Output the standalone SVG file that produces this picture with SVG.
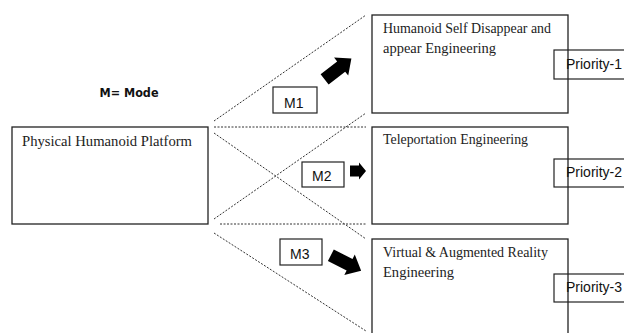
<svg xmlns="http://www.w3.org/2000/svg" width="624" height="333" viewBox="0 0 624 333">
<style>
.box{fill:#fff;stroke:#222;stroke-width:1.3}
.pbox{fill:none;stroke:#222;stroke-width:1.2}
.mbox{fill:#fff;stroke:#222;stroke-width:1.2}
.dot{stroke:#333;stroke-width:1;stroke-dasharray:2 1.5;fill:none}
.serif{font-family:"Liberation Serif","Times New Roman",serif;font-size:14px;fill:#222}
.sans{font-family:"Liberation Sans",Arial,sans-serif;font-size:14px;fill:#111}
.arrow{fill:#000}
</style>
<defs>
<path id="barrow" d="M -17,-6.5 L 4,-6.5 L 4,-11.5 L 17,0 L 4,11.5 L 4,6.5 L -17,6.5 Z"/>
</defs>
<rect width="624" height="333" fill="#fff"/>
<g id="legend">
<text x="129" y="97" text-anchor="middle" font-family="'DejaVu Sans',Verdana,sans-serif" font-weight="bold" font-size="12" fill="#111" textLength="59" lengthAdjust="spacingAndGlyphs">M= Mode</text>
</g>
<g id="connectors">
<line class="dot" x1="214" y1="121" x2="366" y2="15"/>
<line class="dot" x1="214" y1="127" x2="366" y2="127"/>
<line class="dot" x1="214" y1="133" x2="366" y2="239"/>
<line class="dot" x1="214" y1="219" x2="366" y2="113"/>
<line class="dot" x1="220" y1="224" x2="366" y2="224"/>
<line class="dot" x1="214" y1="233" x2="366" y2="331"/>
<use href="#barrow" class="arrow" transform="translate(338,69) rotate(-38)"/>
<path class="arrow" d="M 350,165.5 L 359,165.5 L 359,162.5 L 366,171 L 359,179.5 L 359,176.5 L 350,176.5 Z"/>
<use href="#barrow" class="arrow" transform="translate(346,263) rotate(27)"/>
</g>
<g id="platform">
<rect class="box" x="12" y="127" width="196" height="97"/>
<text class="serif" x="22" y="146" textLength="170" lengthAdjust="spacingAndGlyphs">Physical Humanoid Platform</text>
</g>
<g id="mode1">
<rect class="mbox" x="273" y="87" width="44" height="26"/>
<text class="sans" x="284" y="108">M1</text>
</g>
<g id="mode2">
<rect class="mbox" x="302" y="162" width="42" height="25"/>
<text class="sans" x="312" y="181">M2</text>
</g>
<g id="mode3">
<rect class="mbox" x="280" y="239" width="42" height="26"/>
<text class="sans" x="290" y="259">M3</text>
</g>
<g id="eng1">
<rect class="box" x="372" y="15" width="196" height="98"/>
<text class="serif" x="383" y="33" textLength="168" lengthAdjust="spacingAndGlyphs">Humanoid Self Disappear and</text>
<text class="serif" x="383" y="53" textLength="113" lengthAdjust="spacingAndGlyphs">appear Engineering</text>
</g>
<g id="eng2">
<rect class="box" x="372" y="127" width="196" height="97"/>
<text class="serif" x="383" y="144" textLength="145" lengthAdjust="spacingAndGlyphs">Teleportation Engineering</text>
</g>
<g id="eng3">
<rect class="box" x="372" y="239" width="196" height="110"/>
<text class="serif" x="383" y="257" textLength="165" lengthAdjust="spacingAndGlyphs">Virtual &amp; Augmented Reality</text>
<text class="serif" x="383" y="277" textLength="71" lengthAdjust="spacingAndGlyphs">Engineering</text>
</g>
<g id="priority1">
<rect class="pbox" x="554" y="50" width="80" height="29"/>
<text class="sans" x="566" y="69">Priority-1</text>
</g>
<g id="priority2">
<rect class="pbox" x="554" y="159" width="80" height="28"/>
<text class="sans" x="566" y="177">Priority-2</text>
</g>
<g id="priority3">
<rect class="pbox" x="554" y="274" width="80" height="28"/>
<text class="sans" x="566" y="292">Priority-3</text>
</g>
</svg>
